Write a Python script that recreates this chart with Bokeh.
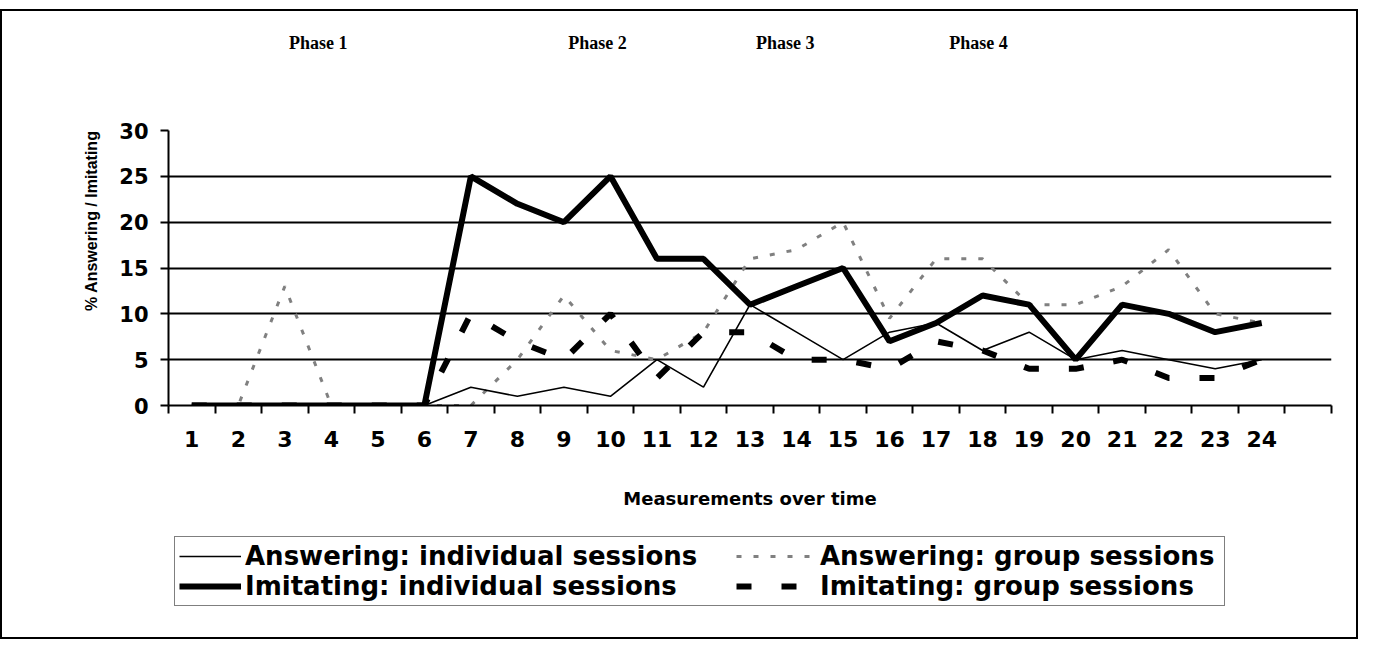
from bokeh.plotting import figure
from bokeh.layouts import column
from bokeh.models import Range1d, FixedTicker, Legend, LegendItem, Label, Title
from bokeh.embed import file_html
from bokeh.resources import INLINE

# ---- data ----
measurements = list(range(1, 25))
answering_individual = [0, 0, 0, 0, 0, 0, 2, 1, 2, 1, 5, 2, 11, 8, 5, 8, 9, 6, 8, 5, 6, 5, 4, 5]
answering_group = [0, 0, 13, 0, 0, 0, 0, 5, 12, 6, 5, 8, 16, 17, 20, 9.5, 16, 16, 11, 11, 13, 17, 10, 9]
imitating_individual = [0, 0, 0, 0, 0, 0, 25, 22, 20, 25, 16, 16, 11, 13, 15, 7, 9, 12, 11, 5, 11, 10, 8, 9]
imitating_group = [0, 0, 0, 0, 0, 0, 10, 7, 5, 10, 3, 8, 8, 5, 5, 4, 7, 6, 4, 4, 5, 3, 3, 5]
y_ticks = [0, 5, 10, 15, 20, 25, 30]
phase_labels = ["Phase 1", "Phase 2", "Phase 3", "Phase 4"]
phase_x = [3.72, 9.72, 13.76, 17.91]

SANS = "DejaVu Sans"
W = 1354
ML, MR = 166, W - 1329

series = [
    ("Answering: individual sessions", answering_individual, dict(line_color="black", line_width=1.6)),
    ("Answering: group sessions", answering_group, dict(line_color="#808080", line_width=3, line_dash="5 12")),
    ("Imitating: individual sessions", imitating_individual, dict(line_color="black", line_width=6)),
    ("Imitating: group sessions", imitating_group, dict(line_color="black", line_width=6, line_dash="15 30")),
]

x_range = Range1d(0.5, 25.5)

# ---- top strip with the phase labels ----
top = figure(width=W, height=89, output_backend="svg", toolbar_location=None,
             x_range=x_range, y_range=Range1d(89, 0), x_axis_location=None, y_axis_location=None,
             min_border_left=ML, min_border_right=MR, min_border_top=0, min_border_bottom=0)
top.outline_line_color = None
top.grid.grid_line_color = None
for t, x in zip(phase_labels, phase_x):
    top.add_layout(Label(x=x, y=31, text=t, text_align="center", text_baseline="middle",
                         text_font="Liberation Serif", text_font_style="bold", text_font_size="18px",
                         text_color="black"))

# ---- main chart ----
p = figure(width=W, height=429, output_backend="svg", toolbar_location=None,
           x_range=x_range, y_range=Range1d(0, 30),
           min_border_left=ML, min_border_right=MR, min_border_top=30, min_border_bottom=124)
p.outline_line_color = None

xa = p.xaxis[0]
xa.ticker = FixedTicker(ticks=measurements, minor_ticks=[m - 0.5 for m in measurements] + [24.5, 25.5])
xa.major_tick_line_color = None
xa.minor_tick_out = 8
xa.minor_tick_in = 0
xa.minor_tick_line_width = 2
xa.minor_tick_line_color = "black"
xa.axis_line_width = 2
xa.axis_line_color = "black"
xa.major_label_text_font = SANS
xa.major_label_text_font_style = "bold"
xa.major_label_text_font_size = "22px"
xa.major_label_text_color = "black"
xa.major_label_standoff = 17
xa.axis_label = "Measurements over time"
xa.axis_label_text_font = SANS
xa.axis_label_text_font_style = "bold"
xa.axis_label_text_font_size = "18px"
xa.axis_label_text_color = "black"
xa.axis_label_standoff = 38

ya = p.yaxis[0]
ya.ticker = FixedTicker(ticks=y_ticks)
ya.major_tick_out = 8
ya.major_tick_in = 0
ya.major_tick_line_width = 2
ya.minor_tick_line_color = None
ya.axis_line_width = 2
ya.axis_line_color = "black"
ya.major_label_text_font = SANS
ya.major_label_text_font_style = "bold"
ya.major_label_text_font_size = "21px"
ya.major_label_text_color = "black"
ya.major_label_standoff = 12

# y-axis title, aligned to the top of the value axis as in the reference
p.add_layout(Title(text="% Answering / Imitating", align="right", offset=0, standoff=34,
                   text_font="Liberation Sans", text_font_style="bold", text_font_size="16px",
                   text_color="black"), "left")

p.xgrid.grid_line_color = None
p.ygrid.grid_line_color = "black"
p.ygrid.grid_line_width = 2

for order in (1, 3, 0, 2):
    name, ys, style = series[order]
    p.line(measurements, ys, **style)

# ---- legend strip (series repeated out of view so that the legend samples use their styles) ----
bot = figure(width=W, height=108, output_backend="svg", toolbar_location=None,
             x_range=Range1d(0.5, 25.5), y_range=Range1d(100, 101),
             x_axis_location=None, y_axis_location=None,
             min_border_left=ML, min_border_right=MR, min_border_top=0, min_border_bottom=0)
bot.outline_line_color = None
bot.grid.grid_line_color = None
rends = [bot.line(measurements, ys, **style) for name, ys, style in series]

common = dict(label_text_font=SANS, label_text_font_style="bold", label_text_font_size="26px",
              label_text_color="black", glyph_height=26, label_height=26,
              label_standoff=4, spacing=0, padding=4, margin=0, orientation="vertical")
leg_a = Legend(items=[LegendItem(label=series[0][0], renderers=[rends[0]]),
                      LegendItem(label=series[2][0], renderers=[rends[2]])],
               location=(6, 31), border_line_color="black", border_line_width=1.5,
               background_fill_color="white", background_fill_alpha=1.0,
               glyph_width=62, label_width=975, **common)
leg_b = Legend(items=[LegendItem(label=series[1][0], renderers=[rends[1]]),
                      LegendItem(label=series[3][0], renderers=[rends[3]])],
               location=(568, 36), border_line_color=None, background_fill_alpha=0.0,
               glyph_width=80, **common)
bot.add_layout(leg_a)
bot.add_layout(leg_b)

page = column(top, p, bot, spacing=0,
              styles={"border": "2px solid black", "background-color": "white", "margin-top": "9px"})

open("out.html", "w").write(file_html(page, INLINE))
